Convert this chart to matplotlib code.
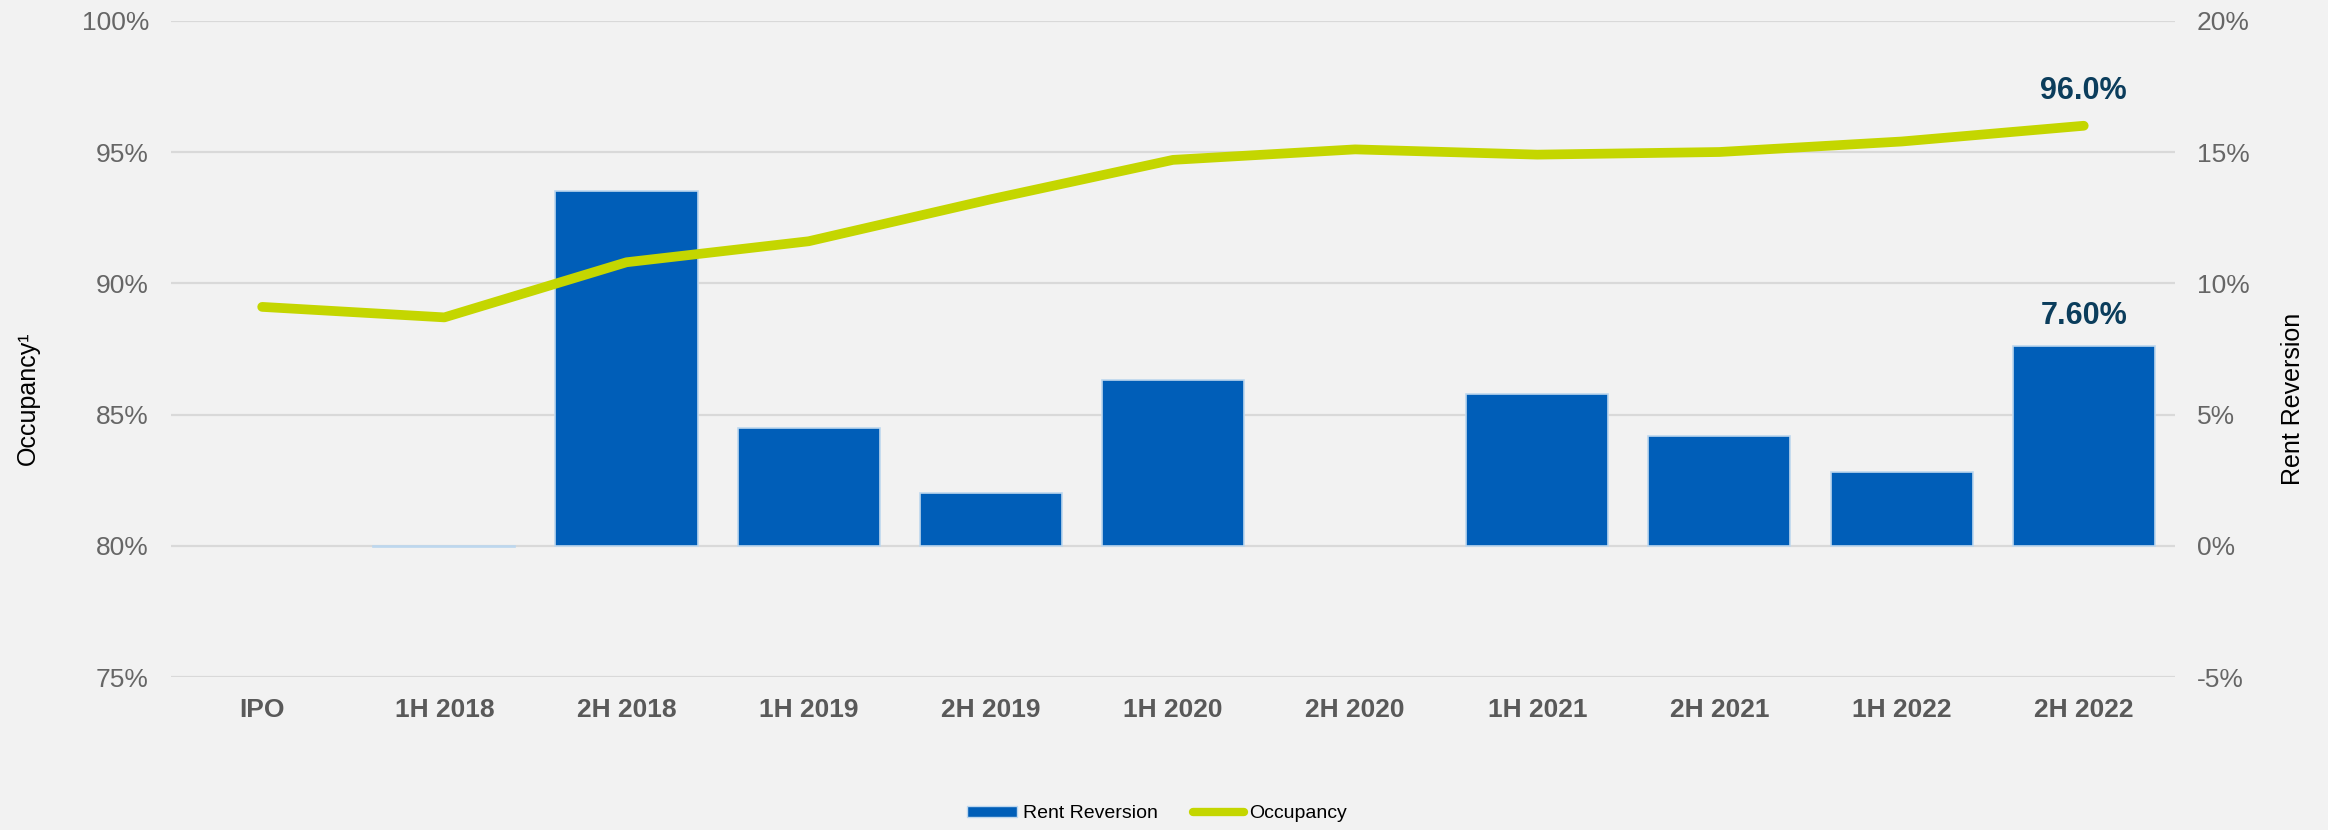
import matplotlib
matplotlib.use('Agg')
import matplotlib.pyplot as plt
import numpy as np
from matplotlib.ticker import FuncFormatter
from matplotlib.lines import Line2D
from matplotlib.patches import Patch

plt.rcParams['font.family'] = ['Liberation Sans', 'DejaVu Sans']

# data
periods = ['IPO', '1H 2018', '2H 2018', '1H 2019', '2H 2019', '1H 2020',
           '2H 2020', '1H 2021', '2H 2021', '1H 2022', '2H 2022']
rent_reversion = [np.nan, -0.05, 13.5, 4.5, 2.0, 6.3, np.nan, 5.8, 4.2, 2.8, 7.6]
occupancy = [89.1, 88.7, 90.8, 91.6, 93.2, 94.7, 95.1, 94.9, 95.0, 95.4, 96.0]

bar_color = '#005EB8'
line_color = '#C4D600'
label_color = '#0B3D5C'
tick_color = '#666666'
bg = '#F2F2F2'

fig = plt.figure(figsize=(23.28, 8.3), dpi=100, facecolor=bg)
ax = fig.add_axes([0.0735, 0.1843, 0.8607, 0.7907])
ax.set_facecolor(bg)
x = np.arange(len(periods))

# bars (rent reversion) on the base axes
ax.bar(x, rent_reversion, width=0.78, color=bar_color, edgecolor='#BDD7EE',
       linewidth=1.2, zorder=2)
ax.set_ylim(-5, 20)
ax.set_yticks(np.arange(-5, 21, 5))
ax.yaxis.set_major_formatter(FuncFormatter(lambda v, p: f'{v:.0f}%'))
ax.grid(axis='y', color='#D9D9D9', linewidth=1.6, zorder=0)
ax.set_axisbelow(True)
ax.set_xlim(-0.5, len(periods) - 0.5)
ax.set_xticks(x)
ax.set_xticklabels(periods, fontsize=19, fontweight='bold', color='#595959')
ax.tick_params(axis='x', length=0, pad=15)

# occupancy line on the twin
ax2 = ax.twinx()
ax2.plot(x, occupancy, color=line_color, linewidth=7, solid_capstyle='round',
         solid_joinstyle='round', zorder=3)
ax2.set_ylim(75, 100)
ax2.set_yticks(np.arange(75, 101, 5))
ax2.yaxis.set_major_formatter(FuncFormatter(lambda v, p: f'{v:.0f}%'))

# swap sides: occupancy on the left, rent reversion on the right
ax.yaxis.tick_right()
ax2.yaxis.tick_left()
for a in (ax, ax2):
    a.tick_params(axis='y', length=0, pad=16, labelsize=19, labelcolor=tick_color)
    for s in a.spines.values():
        s.set_visible(False)

# end labels
ax2.annotate(f'{occupancy[-1]:.1f}%', (x[-1], occupancy[-1]), xytext=(0, 25),
             textcoords='offset points', ha='center', va='center',
             fontsize=22, fontweight='bold', color=label_color)
ax.annotate(f'{rent_reversion[-1]:.2f}%', (x[-1], rent_reversion[-1]), xytext=(0, 22),
            textcoords='offset points', ha='center', va='center',
            fontsize=22, fontweight='bold', color=label_color)

fig.text(0.012, 0.52, 'Occupancy¹', rotation=90, ha='center', va='center', fontsize=18)
fig.text(0.985, 0.52, 'Rent Reversion', rotation=90, ha='center', va='center', fontsize=18)

handles = [Patch(facecolor=bar_color, edgecolor='#BDD7EE', linewidth=1),
           Line2D([0], [0], color=line_color, linewidth=6, solid_capstyle='round')]
fig.legend(handles, ['Rent Reversion', 'Occupancy'], loc='lower center',
           bbox_to_anchor=(0.497, -0.012), ncol=2, frameon=False, fontsize=14,
           handlelength=2.6, handleheight=0.45, handletextpad=0.3, columnspacing=1.8)

fig.savefig('out.png', dpi=100, facecolor=bg)
